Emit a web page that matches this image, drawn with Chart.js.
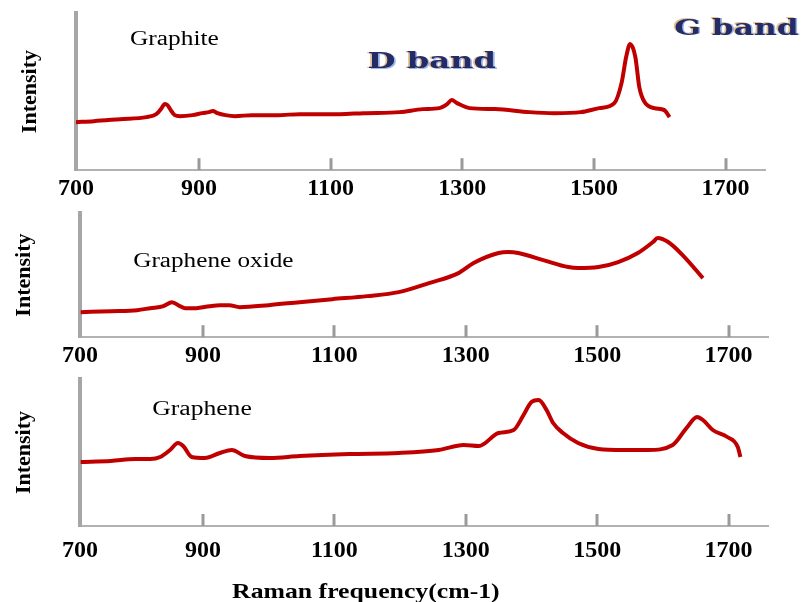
<!DOCTYPE html>
<html>
<head>
<meta charset="utf-8">
<script src="https://cdn.jsdelivr.net/npm/chart.js@4.4.1/dist/chart.umd.min.js"></script>
<style>
    html, body { margin: 0; padding: 0; background: #ffffff; overflow: hidden; }
    body { width: 804px; height: 602px; position: relative; }
    canvas { position: absolute; left: 0; }
</style>
</head>
<body>
<canvas id="graphiteChart" width="804" height="207" style="top:0px"></canvas>
<canvas id="oxideChart" width="804" height="174" style="top:200px"></canvas>
<canvas id="grapheneChart" width="804" height="236" style="top:366px"></canvas>
<script>
// Raman shift (cm-1) axis: the origin of the drawn axis is labelled 700
const ramanTicks = [713, 900, 1100, 1300, 1500, 1700];
const tickLabels = ['700', '900', '1100', '1300', '1500', '1700'];

// Graphite spectrum
const graphiteShift = [713, 740, 780, 820, 835, 842, 848, 852, 857, 863, 871, 890, 905, 915, 921, 928, 940, 955, 980, 1020,
    1053, 1080, 1114, 1150, 1205, 1240, 1265, 1277, 1284, 1292, 1311, 1350, 1402, 1440, 1480, 1508, 1531, 1542, 1549, 1555,
    1563, 1569, 1577, 1592, 1607, 1615];
const graphiteIntensity = [48, 49, 51, 53, 56, 61, 66, 65, 60, 55, 54, 55, 57, 58, 59, 57, 55, 54, 55, 55,
    56, 56, 56, 57, 58, 61, 62, 66, 70, 67, 62, 61, 58, 57, 58, 62, 67, 87, 113, 126,
    113, 83, 68, 62, 60, 53];

// Graphene oxide spectrum
const oxideShift = [714, 760, 800, 820, 840, 853, 865, 873, 890, 910, 926, 940, 956, 1000, 1047, 1097, 1150, 1198, 1244, 1289,
    1312, 1350, 1365, 1380, 1418, 1456, 1471, 1502, 1532, 1562, 1585, 1592, 1608, 1630, 1661];
const oxideIntensity = [25, 26, 27, 29, 31, 35, 31, 29, 29, 31, 32, 32, 30, 32, 35, 38, 41, 45, 54, 64,
    74, 84, 85, 84, 77, 70, 69, 70, 75, 84, 95, 99, 95, 82, 59];

// Graphene spectrum
const grapheneShift = [714, 760, 797, 820, 835, 850, 862, 870, 883, 903, 926, 944, 964, 1002, 1047, 1123, 1198, 1259, 1297, 1320,
    1350, 1373, 1388, 1400, 1411, 1423, 1433, 1448, 1471, 1502, 1539, 1577, 1615, 1636, 1652, 1661, 1676, 1698, 1714, 1718];
const grapheneIntensity = [64, 65, 67, 67, 69, 76, 83, 80, 69, 68, 73, 76, 70, 68, 70, 72, 73, 76, 81, 80,
    93, 96, 111, 124, 126, 116, 103, 93, 83, 77, 76, 76, 81, 98, 109, 106, 96, 89, 79, 69];

const LINE_COLOR = '#c00000';
const BAND_COLOR = '#232c66';

Chart.defaults.font.family = '"Liberation Serif", "Times New Roman", serif';
Chart.defaults.color = '#000000';

// short gray tick marks pointing up into the plot
const innerTicks = {
    id: 'innerTicks',
    afterDraw(chart) {
        const { ctx, chartArea } = chart;
        const xs = chart.scales.x;
        ctx.save();
        ctx.strokeStyle = '#9a9a9a';
        ctx.lineWidth = 3;
        xs.ticks.forEach((t, i) => {
            if (i === 0) return;
            const px = Math.round(xs.getPixelForValue(t.value));
            ctx.beginPath();
            ctx.moveTo(px, chartArea.bottom);
            ctx.lineTo(px, chartArea.bottom - 12);
            ctx.stroke();
        });
        ctx.restore();
    }
};

// free text labels placed in data coordinates
const panelLabels = {
    id: 'panelLabels',
    afterDraw(chart, args, opts) {
        const { ctx, scales } = chart;
        (opts.items || []).forEach(item => {
            const x = scales.x.getPixelForValue(item.x);
            const y = scales.y.getPixelForValue(item.y);
            ctx.save();
            ctx.font = item.font;
            ctx.textBaseline = 'middle';
            ctx.textAlign = item.align || 'left';
            ctx.translate(x, y);
            ctx.scale(item.stretch || 1, 1);
            if (item.fringe) {
                ctx.globalAlpha = 0.55;
                ctx.fillStyle = '#d08a30';
                ctx.fillText(item.text, -1.2, -0.5);
                ctx.fillStyle = '#4a7ad8';
                ctx.fillText(item.text, 1.2, 0.5);
                ctx.globalAlpha = 1;
            }
            ctx.fillStyle = item.color || '#000000';
            ctx.fillText(item.text, 0, 0);
            ctx.restore();
        });
    }
};

function buildPanel(canvasId, shift, intensity, opts) {
    const points = shift.map((v, i) => ({ x: v, y: intensity[i] }));
    return new Chart(document.getElementById(canvasId), {
        type: 'line',
        data: {
            datasets: [{
                data: points,
                borderColor: LINE_COLOR,
                borderWidth: 4,
                pointRadius: 0,
                cubicInterpolationMode: 'monotone',
                fill: false
            }]
        },
        options: {
            responsive: false,
            animation: false,
            events: [],
            layout: { padding: opts.padding },
            plugins: {
                legend: { display: false },
                tooltip: { enabled: false },
                panelLabels: { items: opts.labels }
            },
            scales: {
                x: {
                    type: 'linear',
                    min: 713,
                    max: 1760,
                    afterBuildTicks: axis => { axis.ticks = ramanTicks.map(v => ({ value: v })); },
                    grid: { display: false, drawTicks: false },
                    border: { display: true, color: '#b2b2b2', width: 2 },
                    ticks: {
                        autoSkip: false,
                        maxRotation: 0,
                        padding: opts.tickPadding,
                        color: '#000000',
                        font: { size: 24, weight: 'bold' },
                        callback: (value, index) => tickLabels[index]
                    }
                },
                y: {
                    min: 0,
                    max: opts.yMax,
                    grid: { display: false, drawTicks: false },
                    border: { display: true, color: '#a6a6a6', width: 4 },
                    ticks: { display: false },
                    title: {
                        display: true,
                        text: 'Intensity',
                        color: '#000000',
                        font: { size: 22, weight: 'bold' },
                        padding: { top: 0, bottom: opts.titleGap }
                    }
                }
            }
        },
        plugins: [innerTicks, panelLabels]
    });
}

buildPanel('graphiteChart', graphiteShift, graphiteIntensity, {
    padding: { left: 17, right: 39, top: 13, bottom: 0 },
    titleGap: 32.6,
    tickPadding: 4,
    yMax: 157,
    labels: [
        { text: 'Graphite', x: 795, y: 130, font: '20px "Liberation Serif"', stretch: 1.27 },
        { text: 'D band', x: 1156, y: 108, font: 'bold 23px "DejaVu Serif"', stretch: 1.4, color: BAND_COLOR, fringe: true },
        { text: 'G band', x: 1622, y: 141, font: 'bold 23px "DejaVu Serif"', stretch: 1.36, color: BAND_COLOR, fringe: true }
    ]
});

buildPanel('oxideChart', oxideShift, oxideIntensity, {
    padding: { left: 11, right: 36, top: 13, bottom: 0 },
    titleGap: 42.6,
    tickPadding: 4,
    yMax: 124,
    labels: [
        { text: 'Graphene oxide', x: 794, y: 75, font: '20px "Liberation Serif"', stretch: 1.26 }
    ]
});

buildPanel('grapheneChart', grapheneShift, grapheneIntensity, {
    padding: { left: 11, right: 36, top: 13, bottom: 27.2 },
    titleGap: 42.6,
    tickPadding: 10,
    yMax: 147,
    labels: [
        { text: 'Graphene', x: 823, y: 116, font: '20px "Liberation Serif"', stretch: 1.28 },
        { text: 'Raman frequency(cm-1)', x: 1148, y: -66, align: 'center', font: 'bold 22px "Liberation Serif"', stretch: 1.17 }
    ]
});
</script>
</body>
</html>
